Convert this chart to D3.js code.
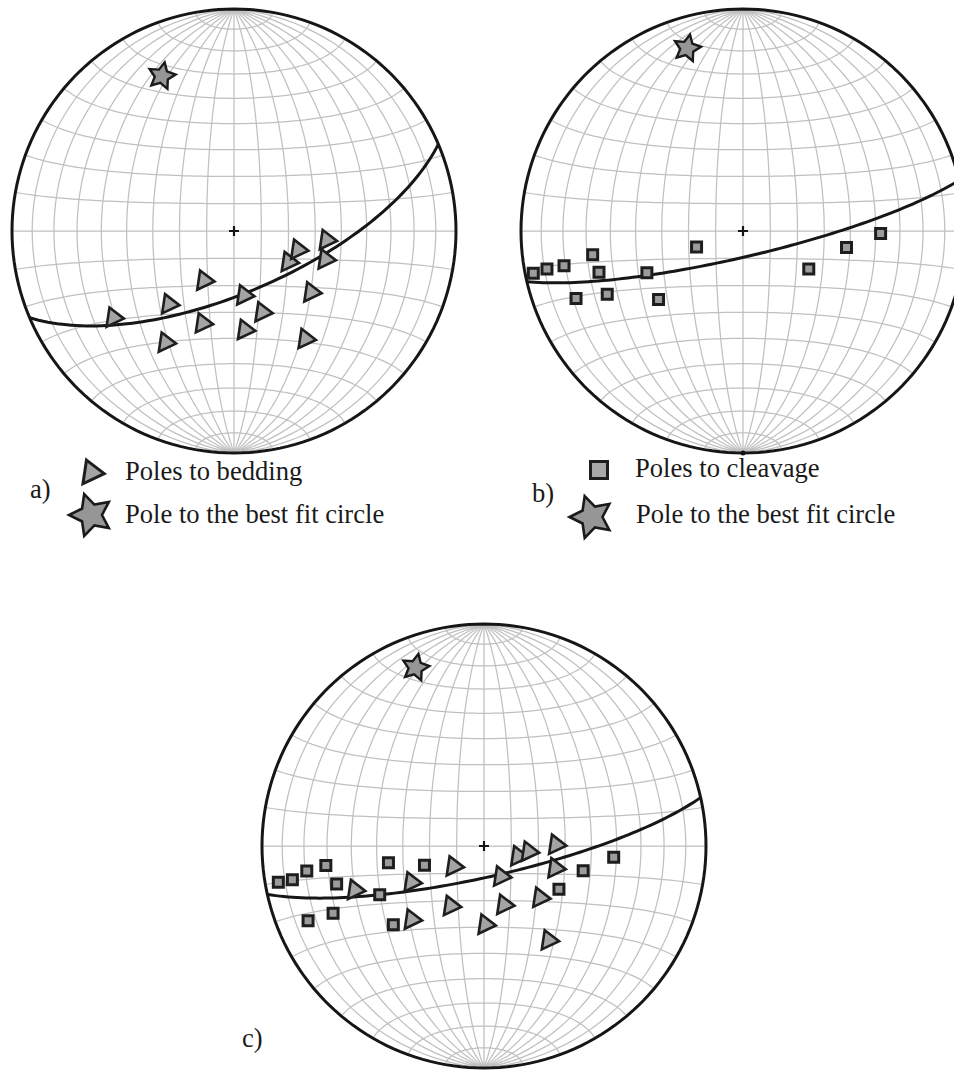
<!DOCTYPE html>
<html>
<head>
<meta charset="utf-8">
<script src="https://cdn.jsdelivr.net/npm/d3@7"></script>
<style>
  body { margin: 0; background: #fff; }
  svg { display: block; }
  text { font-family: "Liberation Serif", "Times New Roman", serif; font-size: 26.6px; fill: #1a1a1a; }
</style>
</head>
<body>
<svg id="fig" width="954" height="1070"></svg>
<script>
// Lower-hemisphere equal-area (Schmidt) stereonets. Orientations are [trend, plunge] in degrees.

// a) poles to bedding
const beddingA = [
  [234, 34], [221, 54], [210, 69], [170, 66], [119, 66.5], [106, 65], [95.5, 55],
  [107, 54], [128, 53], [160, 58], [198, 54], [211, 41], [173, 53], [146, 41]
];
const betaA = [335, 24];          // pole to the best fit circle
const girdlePoleA = [337, 22.7];  // pole of the plotted great circle

// b) poles to cleavage
const cleavageB = [
  [258.6, 4.1], [259, 11], [259, 19], [261, 32], [254, 33], [248, 20], [245, 33],
  [246.5, 51], [231, 49.5], [251, 72], [120, 62], [99, 51], [91, 38]
];
const betaB = [343, 15];
const girdlePoleB = [346.8, 9.4];
const southMarkB = [180, 0];

// c) bedding and cleavage together
const beddingC = [
  [251, 39], [243, 60.5], [235, 77], [149, 77], [106, 76.5], [97, 73], [89, 63],
  [107, 62], [132, 61.5], [160, 67], [208, 65], [224, 52], [178, 61], [145, 47]
];
const cleavageC = [
  [260, 6.6], [260, 13.4], [262, 20.5], [263, 29], [255.5, 32], [247, 15], [246, 26.5],
  [245, 47], [260, 54], [252, 67], [229, 45], [104, 52], [95, 41], [120, 58]
];
const betaC = [339, 15];
const girdlePoleC = [347.4, 11.4];

const legendLabels = ["Poles to bedding", "Pole to the best fit circle", "Poles to cleavage"];
const panelLabels = ["a)", "b)", "c)"];

const R = 222;
const rad = Math.PI / 180;
const svg = d3.select("#fig");
svg.append("rect").attr("width", 954).attr("height", 1070).attr("fill", "#fff");

// Direction [trend, plunge] -> [lon, lat] on the net sphere (net centre = vertical)
function toLonLat([trend, plunge]) {
  const t = trend * rad, p = plunge * rad;
  const n = Math.cos(p) * Math.cos(t), e = Math.cos(p) * Math.sin(t), dn = Math.sin(p);
  return [Math.atan2(e, dn) / rad, Math.asin(Math.max(-1, Math.min(1, n))) / rad];
}

// Great circle (lower half) of the plane whose pole is [trend, plunge]
function greatCircle([trend, plunge]) {
  const strike = (trend + 90) * rad, dipDir = (trend + 180) * rad, dip = (90 - plunge) * rad;
  const s = [Math.cos(strike), Math.sin(strike), 0];
  const d = [Math.cos(dip) * Math.cos(dipDir), Math.cos(dip) * Math.sin(dipDir), Math.sin(dip)];
  const coords = d3.range(0, 181, 2).map(a => {
    const th = Math.min(Math.max(a, 0.05), 179.95) * rad;
    const v = s.map((c, i) => Math.cos(th) * c + Math.sin(th) * d[i]);
    return [Math.atan2(v[1], v[2]) / rad, Math.asin(v[0]) / rad];
  });
  return { type: "LineString", coordinates: coords };
}

// Custom symbol shapes
const triangleType = {
  draw(ctx, size) {
    const k = Math.sqrt(size) / 2;
    ctx.moveTo(-0.55 * k, -1.05 * k);
    ctx.lineTo(0.95 * k, 0.1 * k);
    ctx.lineTo(-0.85 * k, 0.95 * k);
    ctx.closePath();
  }
};
const starType = {
  draw(ctx, size) {
    const r = Math.sqrt(size) / 2, ri = r * 0.5;
    for (let i = 0; i < 10; i++) {
      const a = i * Math.PI / 5, rr = i % 2 ? ri : r;
      const x = rr * Math.sin(a), y = -rr * Math.cos(a);
      if (i) ctx.lineTo(x, y); else ctx.moveTo(x, y);
    }
    ctx.closePath();
  }
};
const squareType = {
  draw(ctx, size) {
    const h = Math.sqrt(size) / 2;
    ctx.rect(-h, -h, 2 * h, 2 * h);
  }
};

const triSym = d3.symbol().type(triangleType).size(370);
const starSym = d3.symbol().type(starType).size(28 * 28);
const sqSym = d3.symbol().type(squareType).size(100);

const graticule = d3.geoGraticule()
  .extent([[-180, -90 + 1e-6], [180, 90 - 1e-6]])
  .step([10, 10]);

function drawNet(cx, cy, opts) {
  const proj = d3.geoAzimuthalEqualArea()
    .scale(R / Math.SQRT2)
    .translate([cx, cy])
    .clipAngle(90)
    .precision(0.1);
  const path = d3.geoPath(proj);
  const g = svg.append("g");

  g.append("path").datum(graticule())
    .attr("d", path).attr("fill", "none")
    .attr("stroke", "#c0c0c0").attr("stroke-width", 1.25);

  g.append("path").datum(greatCircle(opts.girdle))
    .attr("d", path).attr("fill", "none")
    .attr("stroke", "#161616").attr("stroke-width", 3);

  g.append("path").datum({ type: "Sphere" })
    .attr("d", path).attr("fill", "none")
    .attr("stroke", "#161616").attr("stroke-width", 3);

  const c = proj([0, 0]);
  g.append("path")
    .attr("d", `M${c[0] - 5},${c[1]}H${c[0] + 5}M${c[0]},${c[1] - 5}V${c[1] + 5}`)
    .attr("stroke", "#161616").attr("stroke-width", 2.2);

  if (opts.mark) {
    const m = proj(toLonLat(opts.mark));
    g.append("circle").attr("cx", m[0]).attr("cy", m[1]).attr("r", 2.5).attr("fill", "#161616");
  }

  (opts.squares || []).forEach(o => {
    const p = proj(toLonLat(o));
    g.append("path").attr("d", sqSym())
      .attr("transform", `translate(${p[0]},${p[1]})`)
      .attr("fill", "#9c9c9c").attr("stroke", "#1e1e1e").attr("stroke-width", 3);
  });

  (opts.triangles || []).forEach(o => {
    const p = proj(toLonLat(o));
    g.append("path").attr("d", triSym())
      .attr("transform", `translate(${p[0]},${p[1]})`)
      .attr("fill", "#a4a4a4").attr("stroke", "#1e1e1e").attr("stroke-width", 2.6)
      .attr("stroke-linejoin", "miter");
  });

  const b = proj(toLonLat(opts.beta));
  g.append("path").attr("d", starSym())
    .attr("transform", `translate(${b[0]},${b[1]}) rotate(12)`)
    .attr("fill", "#969696").attr("stroke", "#1a1a1a").attr("stroke-width", 2.4);
}

drawNet(234, 231, { triangles: beddingA, beta: betaA, girdle: girdlePoleA });
drawNet(743, 231, { squares: cleavageB, beta: betaB, girdle: girdlePoleB, mark: southMarkB });
drawNet(484, 846, { squares: cleavageC, triangles: beddingC, beta: betaC, girdle: girdlePoleC });

// Legends
const legTri = d3.symbol().type(triangleType).size(560);
const legStar = d3.symbol().type(starType).size(44 * 44);
const legSq = d3.symbol().type(squareType).size(17 * 17);

svg.append("path").attr("d", legTri()).attr("transform", "translate(93,472.5)")
  .attr("fill", "#a4a4a4").attr("stroke", "#1e1e1e").attr("stroke-width", 3);
svg.append("path").attr("d", legStar()).attr("transform", "translate(91,515) rotate(-18)")
  .attr("fill", "#969696").attr("stroke", "#1a1a1a").attr("stroke-width", 2.6);
svg.append("text").attr("x", 125).attr("y", 480).text(legendLabels[0]);
svg.append("text").attr("x", 125).attr("y", 523).text(legendLabels[1]);
svg.append("text").attr("x", 30).attr("y", 498).text(panelLabels[0]);

svg.append("path").attr("d", legSq()).attr("transform", "translate(599,470)")
  .attr("fill", "#a8a8a8").attr("stroke", "#1e1e1e").attr("stroke-width", 3);
svg.append("path").attr("d", legStar()).attr("transform", "translate(591.5,517) rotate(-18)")
  .attr("fill", "#969696").attr("stroke", "#1a1a1a").attr("stroke-width", 2.6);
svg.append("text").attr("x", 635).attr("y", 477).text(legendLabels[2]);
svg.append("text").attr("x", 636).attr("y", 523).text(legendLabels[1]);
svg.append("text").attr("x", 532).attr("y", 502).text(panelLabels[1]);

svg.append("text").attr("x", 242).attr("y", 1047).text(panelLabels[2]);
</script>
</body>
</html>
